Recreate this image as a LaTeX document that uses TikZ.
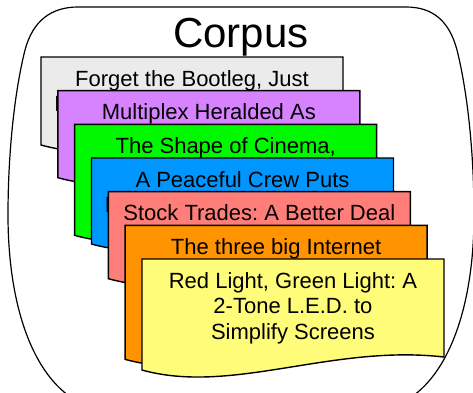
\documentclass[tikz,border=0pt]{standalone}
\usepackage{fontspec}
\setmainfont{Liberation Sans}
\frenchspacing
\definecolor{mercury}{HTML}{EBEBEB}
\definecolor{lavender}{HTML}{D783FF}
\definecolor{spring}{HTML}{00F900}
\definecolor{aqua}{HTML}{0096FF}
\definecolor{salmon}{HTML}{FF7E79}
\definecolor{tangerine}{HTML}{FF9300}
\definecolor{banana}{HTML}{FFFC79}
\tikzset{page/.style={draw=black, line width=1.4pt, line join=miter}}
\tikzset{headline/.style={anchor=base, align=center, inner sep=0pt, font=\fontsize{22}{25.5}\selectfont}}
\tikzset{bag/.style={draw=black, line width=1.2pt}}

\begin{document}
\begin{tikzpicture}[x=1pt, y=-1pt]
            \useasboundingbox (0,0) rectangle (473,392);
            \clip (0,0) rectangle (473,392);
            % the corpus
            \draw[bag] (78,7) -- (406,7)
                .. controls (432,7) and (449,20) .. (457,50)
                .. controls (467,90) and (474,150) .. (474,215)
                .. controls (474,300) and (452,370) .. (410,398)
                -- (72,398)
                .. controls (30,370) and (8,300) .. (8,215)
                .. controls (8,150) and (15,90) .. (25,50)
                .. controls (33,20) and (52,7) .. (78,7) -- cycle;
            \node[anchor=base, inner sep=0pt, font=\fontsize{42}{48}\selectfont] (corpus) at (241,47) {Corpus};
            % the documents (base of a node is its last line)
            \foreach \col/\h/\n/\txt [count=\i from 0] in {
                mercury/88/1/{Forget the Bootleg, Just\\Download the Movie Legally},
                lavender/87/0/{Multiplex Heralded As},
                spring/111/0/{The Shape of Cinema,},
                aqua/86/1/{A Peaceful Crew Puts\\Muppets Where Its Mouth Is},
                salmon/87/0/{Stock Trades: A Better Deal},
                tangerine/134/0/{The three big Internet},
                banana/111/2/{Red Light, Green Light: A\\2-Tone L.E.D. to\\Simplify Screens}}
            {
                \begin{scope}[shift={(16.83*\i,33.67*\i)}]
                    \draw[page, fill=\col] (41,57) -- (343,57) -- (343,57+\h-13)
                        .. controls (231,57+\h-26) and (131,57+\h+25) .. (41,57+\h) -- cycle;
                    \node[headline] (doc\i) at (192,86+25.5*\n) {\txt};
                \end{scope}
            }
        \end{tikzpicture}
\end{document}
